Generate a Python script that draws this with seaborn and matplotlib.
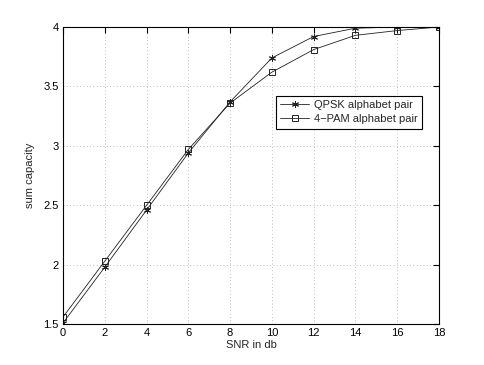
import matplotlib
matplotlib.use("Agg")
import matplotlib.pyplot as plt
import numpy as np
import pandas as pd
import seaborn as sns

snr_db = [0, 2, 4, 6, 8, 10, 12, 14, 16, 18]
qpsk_capacity = [1.51, 1.98, 2.46, 2.94, 3.37, 3.74, 3.92, 3.99, 4.00, 4.00]
pam_capacity = [1.56, 2.03, 2.50, 2.97, 3.36, 3.62, 3.81, 3.93, 3.97, 4.00]
series_names = ["QPSK alphabet pair", "4\u2212PAM alphabet pair"]
series_markers = [(6, 2, 0), "s"]

sns.set_style("white")
plt.rcParams["font.family"] = ["Liberation Sans", "DejaVu Sans"]

fig = plt.figure(figsize=(4.85, 3.65), dpi=100)
ax = fig.add_axes([0.130, 0.112, 0.775, 0.814])

for name, vals, mk in zip(series_names, [qpsk_capacity, pam_capacity], series_markers):
    d = pd.DataFrame({"snr": snr_db, "cap": vals})
    sns.lineplot(data=d, x="snr", y="cap", color="#222222", marker=mk,
                 markersize=5, markerfacecolor="none", markeredgecolor="#222222",
                 markeredgewidth=0.7, linewidth=0.6, label=name, ax=ax)

ax.set_xlim(0, 18)
ax.set_ylim(1.5, 4)
ax.set_xticks(np.arange(0, 19, 2))
ax.set_yticks([1.5, 2, 2.5, 3, 3.5, 4])
ax.set_yticklabels(["1.5", "2", "2.5", "3", "3.5", "4"])
ax.grid(True, linestyle=(0, (1, 3)), color="#aaaaaa", linewidth=0.6)
ax.tick_params(direction="in", length=4, top=True, right=True, labelsize=8, colors="black", pad=3)
for s in ax.spines.values():
    s.set_color("black")
    s.set_linewidth(0.8)
ax.set_xlabel("SNR in db", fontsize=8, labelpad=1)
ax.set_ylabel("sum capacity", fontsize=8, labelpad=6)

leg = ax.legend(loc="upper right", bbox_to_anchor=(0.955, 0.768), borderaxespad=0,
                fontsize=8, frameon=True, fancybox=False, edgecolor="black", framealpha=1,
                handlelength=2.6, borderpad=0.4, labelspacing=0.35, handletextpad=0.4)
leg.get_frame().set_linewidth(0.8)

fig.savefig("out.png", dpi=100)
